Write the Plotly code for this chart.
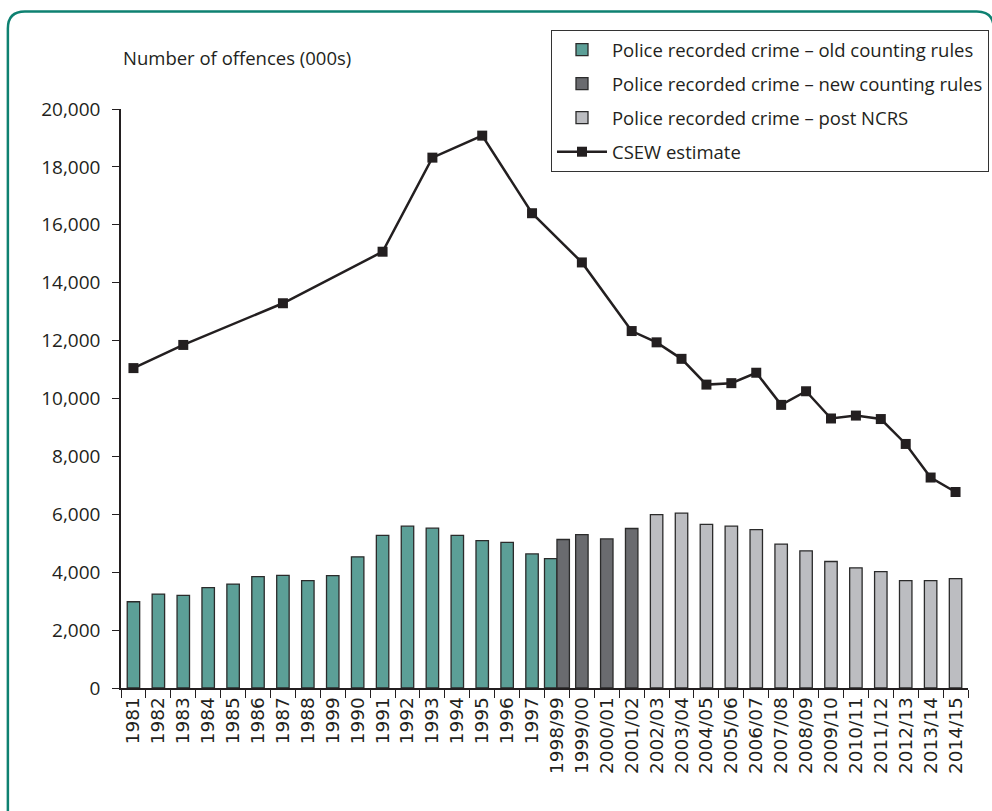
import plotly.graph_objects as go

categories = ["1981", "1982", "1983", "1984", "1985", "1986", "1987", "1988", "1999",
              "1990", "1991", "1992", "1993", "1994", "1995", "1996", "1997",
              "1998/99", "1999/00", "2000/01", "2001/02", "2002/03", "2003/04",
              "2004/05", "2005/06", "2006/07", "2007/08", "2008/09", "2009/10",
              "2010/11", "2011/12", "2012/13", "2013/14", "2014/15"]

old_cats = categories[:18]
old_vals = [2980, 3245, 3200, 3470, 3590, 3850, 3890, 3710, 3880,
            4530, 5270, 5590, 5520, 5270, 5090, 5030, 4630, 4470]

new_cats = ["1998/99", "1999/00", "2000/01", "2001/02"]
new_vals = [5130, 5300, 5150, 5510]

ncrs_cats = categories[21:]
ncrs_vals = [5990, 6040, 5650, 5590, 5470, 4970, 4740, 4370, 4150, 4020, 3710, 3710, 3780]

csew_cats = ["1981", "1983", "1987", "1991", "1993", "1995", "1997", "1999/00",
             "2001/02", "2002/03", "2003/04", "2004/05", "2005/06", "2006/07",
             "2007/08", "2008/09", "2009/10", "2010/11", "2011/12", "2012/13",
             "2013/14", "2014/15"]
csew_vals = [11050, 11850, 13290, 15070, 18320, 19080, 16400, 14700,
             12330, 11940, 11370, 10480, 10530, 10890, 9780, 10250, 9310,
             9410, 9290, 8430, 7270, 6770]

W, H = 992, 811
L, R, T, B = 120.7, 23.7, 109, 122.7
PW, PH = W - L - R, H - T - B

def px(x):
    return (x - L) / PW

def py(y):
    return (H - B - y) / PH

outline = dict(color="#2b2b2b", width=1.3)
fig = go.Figure()

fig.add_trace(go.Bar(
    x=old_cats, y=old_vals, name="Police recorded crime – old counting rules",
    marker=dict(color="#5c9f97", line=outline),
    width=[0.5] * len(old_cats), offset=[-0.25] * (len(old_cats) - 1) + [-0.5],
    legendgroup="a"))
fig.add_trace(go.Bar(
    x=new_cats, y=new_vals, name="Police recorded crime – new counting rules",
    marker=dict(color="#6a6b6f", line=outline),
    width=[0.5] * len(new_cats), offset=[0.0] + [-0.25] * (len(new_cats) - 1),
    legendgroup="b"))
fig.add_trace(go.Bar(
    x=ncrs_cats, y=ncrs_vals, name="Police recorded crime – post NCRS",
    marker=dict(color="#bcbdc1", line=outline),
    width=0.5, offset=-0.25, legendgroup="c"))
fig.add_trace(go.Scatter(
    x=csew_cats, y=csew_vals, name="CSEW estimate", mode="lines+markers",
    line=dict(color="#231f20", width=2.5),
    marker=dict(symbol="square", size=10, color="#231f20"),
    connectgaps=True, legendgroup="d"))

font_main = "Open Sans, Lato, sans-serif"

fig.update_layout(
    width=W, height=H,
    margin=dict(l=L, r=R, t=T, b=B, autoexpand=False),
    paper_bgcolor="white", plot_bgcolor="white",
    barmode="overlay",
    showlegend=True,
    legend=dict(
        x=px(551), y=py(30), xanchor="left", yanchor="top",
        bordercolor="#333333", borderwidth=1, bgcolor="white",
        font=dict(family=font_main, size=18.5, color="#231f20"),
        traceorder="grouped", tracegroupgap=7, itemwidth=50,
    ),
    font=dict(family=font_main, size=18.5, color="#231f20"),
    xaxis=dict(
        type="category", categoryorder="array", categoryarray=categories,
        range=[-0.5, len(categories) - 0.5],
        showline=True, linecolor="#231f20", linewidth=1.5,
        ticks="outside", tickson="boundaries", ticklen=8, tickcolor="#231f20",
        tickwidth=1.3, tickangle=-90, showgrid=False, zeroline=False,
        tickfont=dict(family="DejaVu Sans", size=18.5, color="#231f20"),
    ),
    yaxis=dict(
        range=[0, 20000], tickvals=list(range(0, 20001, 2000)),
        tickformat=",d", showline=True, linecolor="#231f20", linewidth=1.5,
        ticks="outside", ticklen=7, tickcolor="#231f20", tickwidth=1.3,
        showgrid=False, zeroline=False, ticklabelstandoff=8,
        tickfont=dict(family=font_main, size=19, color="#231f20"),
    ),
    annotations=[dict(
        text="Number of offences (000s)", xref="paper", yref="paper",
        x=0, y=py(57), xanchor="left", yanchor="middle", showarrow=False,
        font=dict(family=font_main, size=18.5, color="#231f20"))],
)

x0, x1, y0, yb, r = 7.5, 994, 11.5, 830, 17
path = (f"M {px(x0)},{py(yb)} L {px(x0)},{py(y0 + r)} "
        f"Q {px(x0)},{py(y0)} {px(x0 + r)},{py(y0)} "
        f"L {px(x1 - r)},{py(y0)} Q {px(x1)},{py(y0)} {px(x1)},{py(y0 + r)} "
        f"L {px(x1)},{py(yb)}")
fig.add_shape(type="path", path=path, xref="paper", yref="paper",
              line=dict(color="#0e8171", width=2.5), layer="above")

fig.write_html("out.html")
